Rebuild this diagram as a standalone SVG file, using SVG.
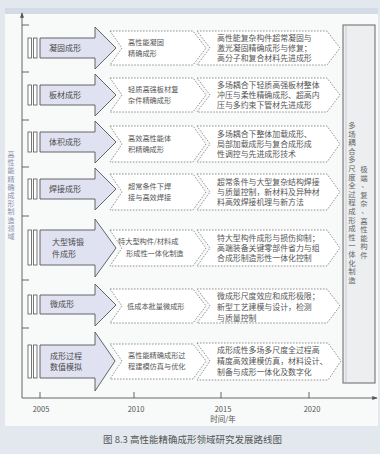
<svg xmlns="http://www.w3.org/2000/svg" width="380" height="454" viewBox="0 0 380 454">
<style>
.t{font-family:"Noto Sans CJK SC","Noto Sans",sans-serif;fill:#4a4a4a}
.lab{font-size:8px}
.a{font-size:7.2px;fill:#555}
.b{font-size:7.9px;fill:#555}
.yr{font-size:7.5px;fill:#555;text-anchor:middle}
.arr{fill:#e0e2f2;stroke:#555;stroke-width:0.9}
.bar{fill:#fff;stroke:#555;stroke-width:0.8}
.dash{fill:#fff;stroke:#7a7a7a;stroke-width:0.8;stroke-dasharray:1.6 1.4}
.ax{stroke:#555;stroke-width:0.9;fill:none}
.vc{text-anchor:middle}
</style>
<defs>
<marker id="ah" viewBox="0 0 8 8" refX="7" refY="4" markerWidth="6" markerHeight="6" orient="auto">
<path d="M0,1 L8,4 L0,7 Z" fill="#555"/>
</marker>
</defs>
<rect x="0" y="0" width="380" height="454" fill="#e2e8ee"/>
<rect x="5" y="8" width="373" height="6" fill="#d3dbe7"/>
<rect x="5" y="14" width="373" height="412" fill="#f8f9f9"/>

<g id="axes">
<line class="ax" x1="22" y1="398" x2="22" y2="13" marker-end="url(#ah)"/>
<line class="ax" x1="22" y1="398" x2="377" y2="398" marker-end="url(#ah)"/>
<path class="ax" d="M22,25H29M22,72H29M22,120H29M22,167H29M22,216H29M22,280H29M22,328H29"/>
<path class="ax" d="M40,392V398M134,392V398M221,392V398M309,392V398"/>
<text class="t yr" x="41" y="412">2005</text>
<text class="t yr" x="136" y="412">2010</text>
<text class="t yr" x="223" y="412">2015</text>
<text class="t yr" x="312" y="412">2020</text>
<text class="t yr" x="223" y="422">时间/年</text>
<text class="t vc" style="font-size:7px;fill:#8790ad"><tspan x="11" y="157">高</tspan><tspan x="11" y="165.2">性</tspan><tspan x="11" y="173.4">能</tspan><tspan x="11" y="181.6">精</tspan><tspan x="11" y="189.8">确</tspan><tspan x="11" y="198">成</tspan><tspan x="11" y="206.2">形</tspan><tspan x="11" y="214.4">制</tspan><tspan x="11" y="222.6">造</tspan><tspan x="11" y="230.8">领</tspan><tspan x="11" y="239">域</tspan></text>
</g>

<g id="goal">
<rect x="343" y="25" width="32" height="358" fill="#eceef0" stroke="#666" stroke-width="1"/>
<line x1="346" y1="26" x2="346" y2="382" stroke="#c8ccd2" stroke-width="1"/>
<text class="t vc" style="font-size:7.4px;fill:#666"><tspan x="352" y="128">多</tspan><tspan x="352" y="136.6">场</tspan><tspan x="352" y="145.2">耦</tspan><tspan x="352" y="153.8">合</tspan><tspan x="352" y="162.4">多</tspan><tspan x="352" y="171">尺</tspan><tspan x="352" y="179.6">度</tspan><tspan x="352" y="188.2">全</tspan><tspan x="352" y="196.8">过</tspan><tspan x="352" y="205.4">程</tspan><tspan x="352" y="214">成</tspan><tspan x="352" y="222.6">形</tspan><tspan x="352" y="231.2">成</tspan><tspan x="352" y="239.8">性</tspan><tspan x="352" y="248.4">一</tspan><tspan x="352" y="257">体</tspan><tspan x="352" y="265.6">化</tspan><tspan x="352" y="274.2">制</tspan><tspan x="352" y="282.8">造</tspan></text>
<text class="t vc" style="font-size:7.4px;fill:#666"><tspan x="364" y="172">极</tspan><tspan x="364" y="180.6">端</tspan><tspan x="365" y="187.2">、</tspan><tspan x="364" y="197.8">复</tspan><tspan x="364" y="206.4">杂</tspan><tspan x="365" y="213">、</tspan><tspan x="364" y="223.6">高</tspan><tspan x="364" y="232.2">性</tspan><tspan x="364" y="240.8">能</tspan><tspan x="364" y="249.4">构</tspan><tspan x="364" y="258">件</tspan></text>
</g>

<g id="row1">
<rect class="bar" x="28" y="38" width="3.5" height="20"/><rect class="bar" x="33.5" y="38" width="3.5" height="20"/>
<polygon class="arr" points="40,38 95,38 95,27 116,48 95,69 95,58 40,58"/>
<text class="t lab" x="49" y="51">凝固成形</text>
<polygon class="dash" points="110,31 193,31 206,48 193,65 110,65 122,48"/>
<text class="t a" x="128" y="45">高性能凝固</text>
<text class="t a" x="128" y="56">精确成形</text>
<polygon class="dash" points="197,31 327,31 340,48 327,65 197,65 210,48"/>
<text class="t b" x="217" y="41">高性能复杂构件超常凝固与</text>
<text class="t b" x="217" y="51">激光凝固精确成形与修复；</text>
<text class="t b" x="217" y="61">高分子和复合材料先进成形</text>
</g>

<g id="row2">
<rect class="bar" x="28" y="85" width="3.5" height="20"/><rect class="bar" x="33.5" y="85" width="3.5" height="20"/>
<polygon class="arr" points="40,85 95,85 95,74 116,95 95,116 95,105 40,105"/>
<text class="t lab" x="49" y="98">板材成形</text>
<polygon class="dash" points="110,78 193,78 206,95 193,112 110,112 122,95"/>
<text class="t a" x="128" y="92">轻质高强板材复</text>
<text class="t a" x="128" y="103">杂件精确成形</text>
<polygon class="dash" points="197,78 327,78 340,95 327,112 197,112 210,95"/>
<text class="t b" x="217" y="88">多场耦合下轻质高强板材整体</text>
<text class="t b" x="217" y="98">冲压与柔性精确成形、超高内</text>
<text class="t b" x="217" y="108">压与多约束下管材先进成形</text>
</g>

<g id="row3">
<rect class="bar" x="28" y="132" width="3.5" height="20"/><rect class="bar" x="33.5" y="132" width="3.5" height="20"/>
<polygon class="arr" points="40,132 95,132 95,121 116,142 95,163 95,152 40,152"/>
<text class="t lab" x="49" y="145">体积成形</text>
<polygon class="dash" points="110,126 193,126 206,144 193,162 110,162 122,144"/>
<text class="t a" x="128" y="141">高效高性能体</text>
<text class="t a" x="128" y="152">积精确成形</text>
<polygon class="dash" points="197,126 327,126 340,144 327,162 197,162 210,144"/>
<text class="t b" x="217" y="137">多场耦合下整体加载成形、</text>
<text class="t b" x="217" y="147">局部加载成形与复合成形成</text>
<text class="t b" x="217" y="157">性调控与先进成形技术</text>
</g>

<g id="row4">
<rect class="bar" x="28" y="179" width="3.5" height="20"/><rect class="bar" x="33.5" y="179" width="3.5" height="20"/>
<polygon class="arr" points="40,179 95,179 95,168 116,189 95,210 95,199 40,199"/>
<text class="t lab" x="49" y="192">焊接成形</text>
<polygon class="dash" points="110,174 193,174 206,192 193,210 110,210 122,192"/>
<text class="t a" x="128" y="189">超常条件下焊</text>
<text class="t a" x="128" y="200">接与高效焊接</text>
<polygon class="dash" points="197,174 327,174 340,192 327,210 197,210 210,192"/>
<text class="t b" x="217" y="185">超常条件与大型复杂结构焊接</text>
<text class="t b" x="217" y="195">与质量控制，新材料及异种材</text>
<text class="t b" x="217" y="205">料高效焊接机理与新方法</text>
</g>

<g id="row5">
<rect class="bar" x="28" y="230" width="3.5" height="35"/><rect class="bar" x="33.5" y="230" width="3.5" height="35"/>
<polygon class="arr" points="40,230 95,230 95,219 116,248 95,277 95,265 40,265"/>
<text class="t lab" x="52" y="245">大型铸锻</text>
<text class="t lab" x="52" y="257">件成形</text>
<polygon class="dash" points="110,230 193,230 206,248 193,266 110,266 122,248"/>
<text class="t a" x="118" y="244">特大型构件/材料成</text>
<text class="t a" x="126" y="256">形成性一体化制造</text>
<polygon class="dash" points="197,230 327,230 340,248 327,266 197,266 210,248"/>
<text class="t b" x="217" y="241">特大型构件成形与损伤抑制；</text>
<text class="t b" x="217" y="251">高端装备关键零部件省力与组</text>
<text class="t b" x="217" y="261">合成形制造形性一体化控制</text>
</g>

<g id="row6">
<rect class="bar" x="28" y="295" width="3.5" height="19"/><rect class="bar" x="33.5" y="295" width="3.5" height="19"/>
<polygon class="arr" points="40,295 95,295 95,284 116,305 95,326 95,314 40,314"/>
<text class="t lab" x="50" y="307">微成形</text>
<polygon class="dash" points="110,289 193,289 206,306 193,323 110,323 122,306"/>
<text class="t a" x="127" y="309">低成本批量微成形</text>
<polygon class="dash" points="197,289 327,289 340,306 327,323 197,323 210,306"/>
<text class="t b" x="217" y="299">微成形尺度效应和成形极限；</text>
<text class="t b" x="217" y="310">新型工艺建模与设计，检测</text>
<text class="t b" x="217" y="321">与质量控制</text>
</g>

<g id="row7">
<rect class="bar" x="28" y="345" width="3.5" height="33"/><rect class="bar" x="33.5" y="345" width="3.5" height="33"/>
<polygon class="arr" points="40,345 95,345 95,332 115,361 95,391 95,378 40,378"/>
<text class="t lab" x="50" y="359">成形过程</text>
<text class="t lab" x="50" y="370">数值模拟</text>
<polygon class="dash" points="110,344 193,344 206,361 193,379 110,379 122,361"/>
<text class="t a" x="128" y="358">高性能精确成形过</text>
<text class="t a" x="128" y="369">程建模仿真与优化</text>
<polygon class="dash" points="197,343 328,343 341,361 328,380 197,380 210,361"/>
<text class="t b" x="217" y="353">成形成性多场多尺度全过程高</text>
<text class="t b" x="217" y="364">精度高效建模仿真，材料设计、</text>
<text class="t b" x="217" y="375">制备与成形一体化及数字化</text>
</g>

<text class="t" x="103" y="443" style="font-size:9.5px;fill:#555">图 8.3   高性能精确成形领域研究发展路线图</text>
</svg>
